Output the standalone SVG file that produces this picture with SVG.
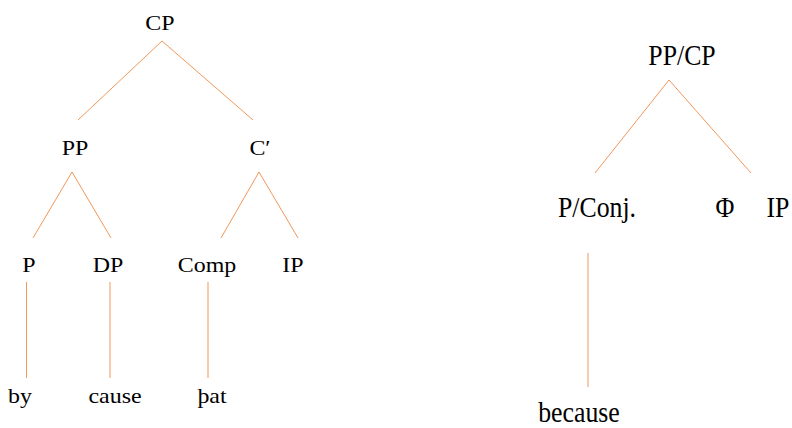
<svg xmlns="http://www.w3.org/2000/svg" width="792" height="428" viewBox="0 0 792 428">
<style>
.l{font-family:"Liberation Serif","DejaVu Serif",serif;font-size:21px;fill:#000;text-anchor:middle}
.r{font-family:"Liberation Serif","DejaVu Serif",serif;font-size:30px;fill:#000;text-anchor:middle}
.e{stroke:#ED7D31;stroke-width:1;fill:none;stroke-opacity:0.8}
</style>
<rect width="792" height="428" fill="#fff"/>
<g id="connectors">
<line class="e" x1="162" y1="41" x2="78" y2="120"/>
<line class="e" x1="162" y1="41" x2="253" y2="120"/>
<line class="e" x1="72" y1="172" x2="33" y2="238"/>
<line class="e" x1="72" y1="172" x2="111" y2="238"/>
<line class="e" x1="259" y1="172" x2="221" y2="238"/>
<line class="e" x1="259" y1="172" x2="298" y2="238"/>
<line class="e" x1="26.5" y1="282" x2="26.5" y2="378"/>
<line class="e" x1="110" y1="282" x2="110" y2="378"/>
<line class="e" x1="208" y1="282" x2="208" y2="378"/>
<line class="e" x1="669" y1="80" x2="595" y2="173"/>
<line class="e" x1="669" y1="80" x2="751" y2="173"/>
<line class="e" x1="588" y1="253" x2="588" y2="387"/>
</g>
<g id="CP"><text class="l" transform="translate(160,30) scale(1.14,1)">CP</text></g>
<g id="PP"><text class="l" transform="translate(75,155) scale(1.14,1)">PP</text></g>
<g id="Cbar"><text class="l" transform="translate(260,155) scale(1.14,1)">C′</text></g>
<g id="P"><text class="l" transform="translate(29,272) scale(1.14,1)">P</text></g>
<g id="DP"><text class="l" transform="translate(108,272) scale(1.14,1)">DP</text></g>
<g id="Comp"><text class="l" transform="translate(207,272) scale(1.14,1)">Comp</text></g>
<g id="IP1"><text class="l" transform="translate(293,272) scale(1.14,1)">IP</text></g>
<g id="by"><text class="l" transform="translate(20,403) scale(1.14,1)">by</text></g>
<g id="cause"><text class="l" transform="translate(115,403) scale(1.14,1)">cause</text></g>
<g id="that"><text class="l" transform="translate(212,403) scale(1.14,1)">þat</text></g>
<g id="PPCP"><text class="r" transform="translate(682,65) scale(0.86,1)">PP/CP</text></g>
<g id="PConj"><text class="r" transform="translate(597,217) scale(0.86,1)">P/Conj.</text></g>
<g id="Phi"><text class="r" transform="translate(725,217) scale(0.86,1)">Φ</text></g>
<g id="IP2"><text class="r" transform="translate(778,217) scale(0.86,1)">IP</text></g>
<g id="because"><text class="r" transform="translate(579,422) scale(0.86,1)">because</text></g>
</svg>
